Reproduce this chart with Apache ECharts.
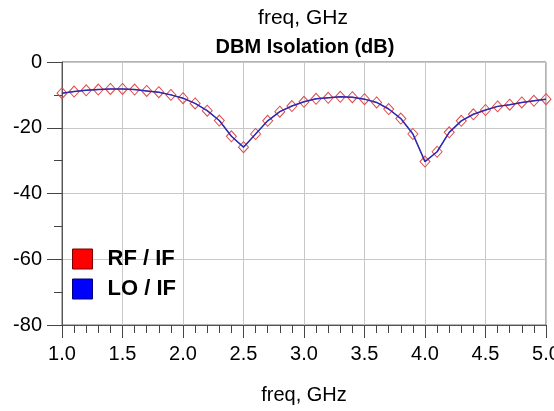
<!DOCTYPE html>
<html>
<head>
<meta charset="utf-8">
<script src="https://cdn.jsdelivr.net/npm/echarts@6/dist/echarts.min.js"></script>
<style>
html,body{margin:0;padding:0;background:#fff;}
#c{width:554px;height:411px;}
</style>
</head>
<body>
<div id="c"></div>
<script>
// frequencies (GHz)
var freq = [1.0,1.1,1.2,1.3,1.4,1.5,1.6,1.7,1.8,1.9,2.0,2.1,2.2,2.3,2.4,2.5,2.6,2.7,2.8,2.9,
            3.0,3.1,3.2,3.3,3.4,3.5,3.6,3.7,3.8,3.9,4.0,4.1,4.2,4.3,4.4,4.5,4.6,4.7,4.8,4.9,5.0];
// RF / IF isolation (dB)
var rfIf = [-9.5,-9.0,-8.6,-8.4,-8.2,-8.2,-8.4,-8.8,-9.2,-10.0,-11.0,-12.6,-14.8,-17.8,-22.6,-25.9,-21.9,-17.9,-15.1,-13.4,
            -12.1,-11.2,-10.9,-10.6,-10.7,-11.3,-12.3,-14.3,-17.2,-21.9,-30.3,-27.3,-21.4,-17.9,-15.9,-14.6,-13.5,-13.0,-12.3,-11.8,-11.3];
// LO / IF isolation (dB)
var loIf = [-9.5,-9.0,-8.6,-8.4,-8.2,-8.2,-8.4,-8.8,-9.2,-10.0,-11.0,-12.6,-14.8,-17.8,-22.6,-25.9,-21.9,-17.9,-15.1,-13.4,
            -12.1,-11.2,-10.9,-10.6,-10.7,-11.3,-12.3,-14.3,-17.2,-21.9,-30.3,-27.3,-21.4,-17.9,-15.9,-14.6,-13.5,-13.0,-12.3,-11.8,-11.3];
var seriesNames = ['RF / IF', 'LO / IF'];
var yTicks = [-80, -60, -40, -20, 0];
var xTicks = [1.0, 1.5, 2.0, 2.5, 3.0, 3.5, 4.0, 4.5, 5.0];

function pairs(xs, ys){ return xs.map(function(x,i){ return [x, ys[i]]; }); }

var FONT = "Arial, 'Liberation Sans', sans-serif";
var chart = echarts.init(document.getElementById('c'), null, {renderer:'canvas'});
chart.setOption({
  backgroundColor: '#ffffff',
  animation: false,
  title: [
    {text: 'freq, GHz', left: 298, top: 3, textAlign: 'center',
     textStyle: {fontFamily: FONT, fontSize: 21, fontWeight: 'normal', color: '#000'}},
    {text: 'DBM Isolation (dB)', left: 300, top: 32, textAlign: 'center',
     textStyle: {fontFamily: FONT, fontSize: 20, fontWeight: 'bold', color: '#000'}}
  ],
  legend: {
    orient: 'vertical', left: 67, top: 243,
    itemWidth: 20, itemHeight: 20, itemGap: 8,
    selectedMode: false,
    textStyle: {fontFamily: FONT, fontSize: 22, fontWeight: 'bold', color: '#000', padding: [0,0,0,10]},
    data: [
      {name: seriesNames[0], icon: 'rect', itemStyle: {color: '#ff0000', borderColor: '#7a0000', borderWidth: 1}},
      {name: seriesNames[1], icon: 'rect', itemStyle: {color: '#0000ff', borderColor: '#00007a', borderWidth: 1}}
    ]
  },
  grid: {left: 62, right: 8, top: 62, bottom: 86, outerBoundsMode: 'none', containLabel: false,
         show: true, borderColor: '#666', borderWidth: 1, backgroundColor: 'transparent'},
  xAxis: {
    type: 'value', min: xTicks[0], max: xTicks[xTicks.length-1], interval: 0.5,
    name: 'freq, GHz', nameLocation: 'middle', nameGap: 60,
    nameTextStyle: {fontFamily: FONT, fontSize: 20, color: '#000'},
    axisLine: {show: true, onZero: false, lineStyle: {color: '#555', width: 1}},
    axisTick: {show: true, inside: false, length: 13, lineStyle: {color: '#444', width: 1}},
    minorTick: {show: true, splitNumber: 5, length: 8, lineStyle: {color: '#444', width: 1}},
    splitLine: {show: true, lineStyle: {color: '#c8c8c8', width: 1}},
    axisLabel: {fontFamily: FONT, fontSize: 20, color: '#000', margin: 19, hideOverlap: false,
      showMaxLabel: true, showMinLabel: true,
      formatter: function(v){ return v.toFixed(1); }}
  },
  yAxis: {
    type: 'value', min: yTicks[0], max: yTicks[yTicks.length-1], interval: 20,
    axisLine: {show: true, lineStyle: {color: '#555', width: 1}},
    axisTick: {show: true, inside: false, length: 15, lineStyle: {color: '#444', width: 1}},
    minorTick: {show: true, splitNumber: 2, length: 8, lineStyle: {color: '#444', width: 1}},
    splitLine: {show: true, lineStyle: {color: '#c8c8c8', width: 1}},
    axisLabel: {fontFamily: FONT, fontSize: 20, color: '#000', margin: 20}
  },
  series: [
    {
      name: seriesNames[0], type: 'line', data: pairs(freq, rfIf),
      symbol: 'diamond', symbolSize: [10, 11], showAllSymbol: true,
      itemStyle: {color: 'rgba(0,0,0,0)', borderColor: '#dd4a4a', borderWidth: 1},
      lineStyle: {color: '#dd4a4a', width: 1},
      z: 3
    },
    {
      name: seriesNames[1], type: 'line', data: pairs(freq, loIf),
      symbol: 'none',
      itemStyle: {color: '#2a2ab4'},
      lineStyle: {color: '#2a2ab4', width: 1.5},
      z: 4
    }
  ]
});
</script>
</body>
</html>
